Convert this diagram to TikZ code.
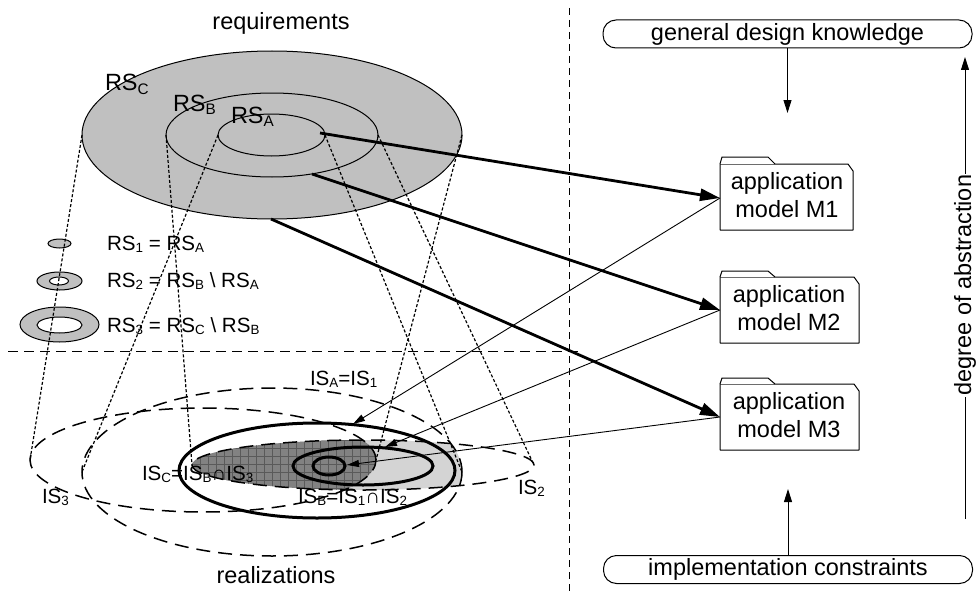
\documentclass[tikz,border=0pt]{standalone}
\usepackage{fontspec}
\setmainfont{Liberation Sans}
\usetikzlibrary{arrows.meta}
\newcommand\lo[1]{\raisebox{-0.13em}{\scalebox{0.65}{#1}}}
\newcommand\bigfont{\fontsize{23.5pt}{28pt}\selectfont}
\newcommand\smallfont{\fontsize{20.6pt}{24pt}\selectfont}
% folder shape: x1, tab top, body top, x2, bottom
\newcommand\folderbox[5]{%
  \draw[folder] (#1,#5) -- (#1,#3) -- (#4-5,#3) -- (#4,#3+7) -- (#4,#5) -- cycle;
  \draw[folder] (#1,#3) -- (#1+2,#2) -- (#1+48,#2) -- (#1+55,#3);
}
\definecolor{rsgray}{RGB}{192,192,192}
\definecolor{lightreg}{RGB}{212,212,212}
\definecolor{darkreg}{RGB}{130,130,130}
\definecolor{gridcol}{RGB}{90,90,90}
\begin{document}
\begin{tikzpicture}[x=1pt,y=-1pt,
  every node/.style={inner sep=0pt, outer sep=0pt},
  big/.style={font=\bigfont},
  lbl/.style={font=\smallfont},
  ellline/.style={line width=1pt},
  projline/.style={line width=1.2pt, dash pattern=on 3pt off 2pt},
  isdash/.style={line width=1.5pt, dash pattern=on 14pt off 8pt},
  hsep/.style={line width=0.9pt, dash pattern=on 10pt off 6pt},
  vsep/.style={line width=0.9pt, dash pattern=on 7pt off 5pt},
  thickell/.style={line width=3pt},
  bigarrow/.style={line width=2.8pt, -{Triangle[length=20pt,width=12pt]}},
  smallarrow/.style={line width=0.9pt, -{Triangle[length=12pt,width=7pt]}},
  vertarrow/.style={line width=0.9pt, -{Triangle[length=13pt,width=8pt]}},
  folder/.style={line width=1pt, fill=white, line join=round},
  tagbox/.style={draw, line width=1pt, rounded corners=13pt, minimum width=369pt,
    minimum height=28pt, font=\bigfont},
]
\useasboundingbox (0,0) rectangle (977,594);

% ---------- requirement sets ----------
\draw[ellline, fill=rsgray] (272,135) ellipse [x radius=190pt, y radius=84pt];
\draw[ellline] (272,135) ellipse [x radius=106pt, y radius=42pt];
\draw[ellline] (271.5,135) ellipse [x radius=53.5pt, y radius=21pt];

\coordinate (rcL) at (82,135);   \coordinate (rcR) at (462,135);
\coordinate (rbL) at (166,135);  \coordinate (rbR) at (378,135);
\coordinate (raL) at (218,135);  \coordinate (raR) at (325,135);
\coordinate (a1s) at (320,133);  \coordinate (a2s) at (312,174);
\coordinate (a3s) at (271,219);

% legend rings
\draw[ellline, fill=rsgray] (59.5,243.5) ellipse [x radius=11.5pt, y radius=4.5pt];
\draw[ellline, fill=rsgray, even odd rule] (59.5,281) ellipse [x radius=22.5pt, y radius=9pt]
  (59,281) ellipse [x radius=9.5pt, y radius=4pt];
\draw[ellline, fill=rsgray, even odd rule] (59.5,324.5) ellipse [x radius=39.5pt, y radius=17.5pt]
  (59.5,325) ellipse [x radius=22.5pt, y radius=8pt];

% ---------- implementation sets ----------
\begin{scope}
  \clip (272,472) ellipse [x radius=190pt, y radius=84pt];
  \fill[lightreg] (363,465) ellipse [x radius=171pt, y radius=25pt];
\end{scope}
\begin{scope}
  \clip (203,460) ellipse [x radius=173pt, y radius=52pt];
  \clip (363,465) ellipse [x radius=171pt, y radius=25pt];
  \fill[darkreg] (150,400) rectangle (400,520);
  \draw[gridcol, line width=0.5pt] (150,400) grid[step=8pt] (400,520);
\end{scope}

\draw[isdash] (272,472) ellipse [x radius=190pt, y radius=84pt];
\draw[isdash] (363,465) ellipse [x radius=171pt, y radius=25pt];
\draw[isdash] (203,460) ellipse [x radius=173pt, y radius=52pt];

\draw[thickell] (317,470.5) ellipse [x radius=138pt, y radius=47.5pt];
\draw[thickell] (363,466) ellipse [x radius=70pt, y radius=19pt];
\draw[thickell] (329,466) ellipse [x radius=16pt, y radius=9pt];

\coordinate (i3L) at (30,460);   \coordinate (i3R) at (376,460);
\coordinate (i2L) at (192,465);  \coordinate (i2R) at (534,465);
\coordinate (i1L) at (82,472);   \coordinate (i1R) at (462,472);
\coordinate (t1) at (353,424);   \coordinate (t2) at (385,447);
\coordinate (t3) at (347,465);

% projections from requirement sets to implementation sets
\draw[projline] (rcL) -- (i3L);
\draw[projline] (rcR) -- (i3R);
\draw[projline] (rbL) -- (i2L);
\draw[projline] (rbR) -- (i2R);
\draw[projline] (raL) -- (i1L);
\draw[projline] (raR) -- (i1R);

% separators
\draw[hsep] (8,351) -- (578,351);
\draw[vsep] (569,8) -- (569,594);

% ---------- labels ----------
\node[big, anchor=base] (req) at (281,30) {requirements};
\node[big, anchor=base] (real) at (276,583) {realizations};
\node[big, anchor=base west] (lrc) at (105,91) {RS\lo{C}};
\node[big, anchor=base west] (lrb) at (173,111) {RS\lo{B}};
\node[big, anchor=base west] (lra) at (231,123) {RS\lo{A}};

\node[lbl, anchor=base west] (l1) at (107,250) {RS\lo{1} = RS\lo{A}};
\node[lbl, anchor=base west] (l2) at (107,287) {RS\lo{2} = RS\lo{B} \textbackslash{} RS\lo{A}};
\node[lbl, anchor=base west] (l3) at (107,332) {RS\lo{3} = RS\lo{C} \textbackslash{} RS\lo{B}};

\node[lbl, anchor=base west] (isa) at (310,385) {IS\lo{A}=IS\lo{1}};
\node[lbl, anchor=base west] (isc) at (142,480) {IS\lo{C}=IS\lo{B}∩IS\lo{3}};
\node[lbl, anchor=base west] (isb) at (298,503) {IS\lo{B}=IS\lo{1}∩IS\lo{2}};
\node[lbl, anchor=base west] (is2) at (518,494) {IS\lo{2}};
\node[lbl, anchor=base west] (is3) at (42,503) {IS\lo{3}};

% ---------- application models ----------
\folderbox{720}{157}{164}{853}{230}
\folderbox{720}{271}{277}{859}{343}
\folderbox{720}{378}{384}{859}{450}
\node[big, anchor=base] (m1a) at (787,189) {application};
\node[big, anchor=base] (m1b) at (787,217) {model M1};
\node[big, anchor=base] (m2a) at (789,302) {application};
\node[big, anchor=base] (m2b) at (789,330) {model M2};
\node[big, anchor=base] (m3a) at (789,409) {application};
\node[big, anchor=base] (m3b) at (789,437) {model M3};
\coordinate (m1w) at (720,198);
\coordinate (m2w) at (720,310);
\coordinate (m3w) at (720,417);

\draw[bigarrow] (a1s) -- (m1w);
\draw[bigarrow] (a2s) -- (m2w);
\draw[bigarrow] (a3s) -- (m3w);
\draw[smallarrow] (m1w) -- (t1);
\draw[smallarrow] (m2w) -- (t2);
\draw[smallarrow] (m3w) -- (t3);

% ---------- knowledge sources ----------
\node[tagbox] (gdk) at (787.5,34) {general design knowledge};
\node[tagbox] (imc) at (788,569.5) {implementation constraints};
\coordinate (dn) at (787.5,113);
\coordinate (up) at (788,489);
\draw[vertarrow] (gdk.south) -- (dn);
\draw[vertarrow] (imc.north) -- (up);

\coordinate (dabot) at (965,519);
\coordinate (datop) at (965,57);
\draw[vertarrow] (dabot) -- node[pos=0.506, rotate=90, fill=white, inner sep=1pt, big] (deg) {degree of abstraction} (datop);
\end{tikzpicture}
\end{document}
